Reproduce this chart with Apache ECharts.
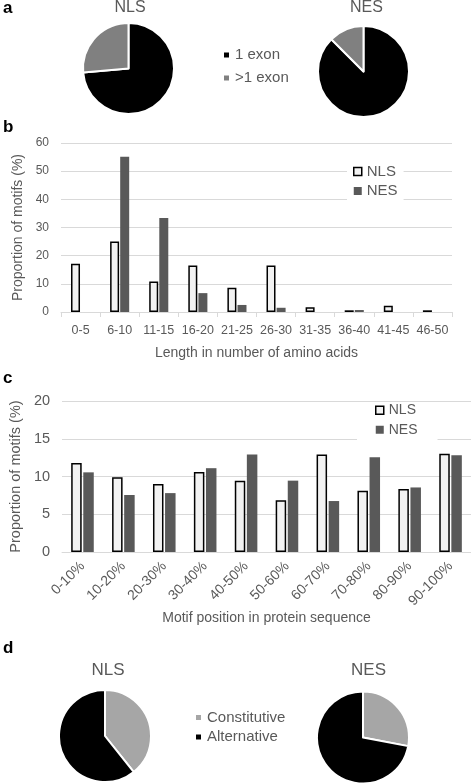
<!DOCTYPE html>
<html>
<head>
<meta charset="utf-8">
<script src="https://cdn.jsdelivr.net/npm/echarts@6/dist/echarts.min.js"></script>
<style>
html,body{margin:0;padding:0;background:#fff;}
#c{width:471px;height:783px;}
</style>
</head>
<body>
<div id="c"></div>
<script>
// ---- data ----
const exonNames = ['1 exon', '>1 exon'];
const exonNLS = [73.6, 26.4];
const exonNES = [87.5, 12.5];

const lenCats = ['0-5','6-10','11-15','16-20','21-25','26-30','31-35','36-40','41-45','46-50'];
const lenNLS = [17.1, 25.0, 10.8, 16.5, 8.6, 16.5, 1.7, 0.6, 2.2, 0.6];
const lenNES = [0, 55.1, 33.4, 6.7, 2.5, 1.5, 0, 0.7, 0, 0];
const lenTicks = [0, 10, 20, 30, 40, 50, 60];

const posCats = ['0-10%','10-20%','20-30%','30-40%','40-50%','50-60%','60-70%','70-80%','80-90%','90-100%'];
const posNLS = [11.8, 9.9, 9.0, 10.6, 9.45, 6.85, 12.9, 8.1, 8.35, 13.0];
const posNES = [10.55, 7.55, 7.8, 11.1, 12.9, 9.45, 6.75, 12.55, 8.55, 12.8];
const posTicks = [0, 5, 10, 15, 20];

const spliceNames = ['Constitutive', 'Alternative'];
const spliceNLS = [39.3, 60.7];
const spliceNES = [28.0, 72.0];

// ---- styles ----
const FONT = 'Liberation Sans, Arial, Helvetica, sans-serif';
const TXT = '#595959';
const GRID = '#d9d9d9';
const nlsStyle = {color: '#f2f2f2', borderColor: '#000', borderWidth: 1.5};
const nesStyle = {color: '#595959'};
const exonColors = ['#000000', '#808080'];
const spliceColors = ['#a6a6a6', '#000000'];

function pieData(names, vals, colors) {
  return names.map((n, i) => ({name: n, value: vals[i], itemStyle: {color: colors[i]}}));
}
function pie(id, center, r, names, vals, colors) {
  return {
    type: 'pie', id: id, name: id, center: center, radius: [0, r], startAngle: 90, clockwise: true,
    label: {show: false}, labelLine: {show: false}, silent: true,
    itemStyle: {borderColor: '#fff', borderWidth: 2},
    emphasis: {disabled: true},
    data: pieData(names, vals, colors)
  };
}
function txt(text, x, y, size, opts) {
  opts = opts || {};
  return {
    type: 'text', x: x, y: y, silent: true,
    style: {
      text: text, fill: opts.fill || TXT,
      font: (opts.bold ? 'bold ' : '') + size + 'px ' + FONT,
      textAlign: opts.align || 'center', textVerticalAlign: 'middle',
      align: opts.align || 'center', verticalAlign: 'middle'
    }
  };
}
function legendItem(name, style) {
  return {name: name, icon: 'rect', itemStyle: style};
}

const chart = echarts.init(document.getElementById('c'), null, {renderer: 'canvas'});
chart.setOption({
  animation: false,
  backgroundColor: '#fff',
  textStyle: {fontFamily: FONT},
  graphic: [
    txt('a', 3, 8, 17, {bold: true, fill: '#000', align: 'left'}),
    txt('b', 3, 127, 17, {bold: true, fill: '#000', align: 'left'}),
    txt('c', 3, 378, 17, {bold: true, fill: '#000', align: 'left'}),
    txt('d', 3, 648, 17, {bold: true, fill: '#000', align: 'left'}),
    txt('NLS', 130, 8, 16),
    txt('NES', 366.5, 8, 16),
    txt('NLS', 108, 670, 17),
    txt('NES', 368.5, 670, 17)
  ],
  legend: [
    {
      orient: 'vertical', left: 222, top: 47.5, padding: 0,
      itemWidth: 7, itemHeight: 7, itemGap: 8, icon: 'rect', selectedMode: false,
      textStyle: {fontSize: 15, color: TXT, lineHeight: 15, fontFamily: FONT},
      data: [legendItem(exonNames[0], {color: exonColors[0]}), legendItem(exonNames[1], {color: exonColors[1]})]
    },
    {
      orient: 'vertical', left: 347, top: 158, padding: [6, 6, 6, 6],
      backgroundColor: '#fff',
      itemWidth: 8, itemHeight: 8, itemGap: 4.5, icon: 'rect', selectedMode: false,
      textStyle: {fontSize: 15, color: TXT, lineHeight: 15, fontFamily: FONT},
      data: [legendItem('NLS', nlsStyle), legendItem('NES', nesStyle)]
    },
    {
      orient: 'vertical', left: 357, top: 402, padding: [1, 20, 4, 18],
      backgroundColor: '#fff',
      itemWidth: 8, itemHeight: 8, itemGap: 5, icon: 'rect', selectedMode: false,
      textStyle: {fontSize: 14, color: TXT, lineHeight: 14.5, fontFamily: FONT},
      data: [legendItem('NLS', nlsStyle), legendItem('NES', nesStyle)]
    },
    {
      orient: 'vertical', left: 194, top: 710, padding: 0,
      itemWidth: 7, itemHeight: 7, itemGap: 4.5, icon: 'rect', selectedMode: false,
      textStyle: {fontSize: 15, color: TXT, lineHeight: 15, fontFamily: FONT},
      data: [legendItem(spliceNames[0], {color: spliceColors[0]}), legendItem(spliceNames[1], {color: spliceColors[1]})]
    }
  ],
  grid: [
    {left: 61, right: 19, top: 143, bottom: 783 - 312},
    {left: 49.4, right: 0, top: 401, bottom: 783 - 552}
  ],
  xAxis: [
    {
      gridIndex: 0, type: 'category', data: lenCats,
      axisLine: {lineStyle: {color: GRID, width: 1}},
      axisTick: {show: true, length: 5, lineStyle: {color: GRID}},
      axisLabel: {color: TXT, fontSize: 12.5, margin: 12, interval: 0},
      name: 'Length in number of amino acids', nameLocation: 'middle', nameGap: 34,
      nameTextStyle: {color: TXT, fontSize: 14}
    },
    {
      gridIndex: 1, type: 'category', data: posCats,
      axisLine: {lineStyle: {color: GRID, width: 1}},
      axisTick: {show: false},
      axisLabel: {color: TXT, fontSize: 14, margin: 12, rotate: 45, interval: 0},
      name: 'Motif position in protein sequence', nameLocation: 'middle', nameGap: 59,
      nameTextStyle: {color: TXT, fontSize: 14}
    }
  ],
  yAxis: [
    {
      gridIndex: 0, type: 'value', min: lenTicks[0], max: lenTicks[lenTicks.length - 1], interval: 10,
      axisLine: {show: false}, axisTick: {show: false},
      splitLine: {lineStyle: {color: GRID, width: 1}},
      axisLabel: {color: TXT, fontSize: 12, margin: 12},
      name: 'Proportion of motifs (%)', nameLocation: 'middle', nameGap: 35,
      nameTextStyle: {color: TXT, fontSize: 14}
    },
    {
      gridIndex: 1, type: 'value', min: posTicks[0], max: posTicks[posTicks.length - 1], interval: 5,
      axisLine: {show: false}, axisTick: {show: false},
      splitLine: {lineStyle: {color: GRID, width: 1}},
      axisLabel: {color: TXT, fontSize: 14.5, margin: 12},
      name: 'Proportion of motifs (%)', nameLocation: 'middle', nameGap: 36,
      nameTextStyle: {color: TXT, fontSize: 14.5}
    }
  ],
  series: [
    pie('exonNLS', [128.5, 68.5], 45.5, exonNames, exonNLS, exonColors),
    pie('exonNES', [363.5, 71.5], 45.5, exonNames, exonNES, exonColors),
    {type: 'bar', name: 'NLS', xAxisIndex: 0, yAxisIndex: 0, data: lenNLS, barWidth: 9, barGap: '12%',
     itemStyle: nlsStyle, silent: true},
    {type: 'bar', name: 'NES', xAxisIndex: 0, yAxisIndex: 0, data: lenNES, barWidth: 9, barGap: '12%',
     itemStyle: nesStyle, silent: true},
    {type: 'bar', name: 'NLS', xAxisIndex: 1, yAxisIndex: 1, data: posNLS, barWidth: 10.5, barGap: '15%',
     itemStyle: nlsStyle, silent: true},
    {type: 'bar', name: 'NES', xAxisIndex: 1, yAxisIndex: 1, data: posNES, barWidth: 10.5, barGap: '15%',
     itemStyle: nesStyle, silent: true},
    pie('spliceNLS', [105, 736], 46, spliceNames, spliceNLS, spliceColors),
    pie('spliceNES', [363, 737.5], 46, spliceNames, spliceNES, spliceColors)
  ]
});
</script>
</body>
</html>
